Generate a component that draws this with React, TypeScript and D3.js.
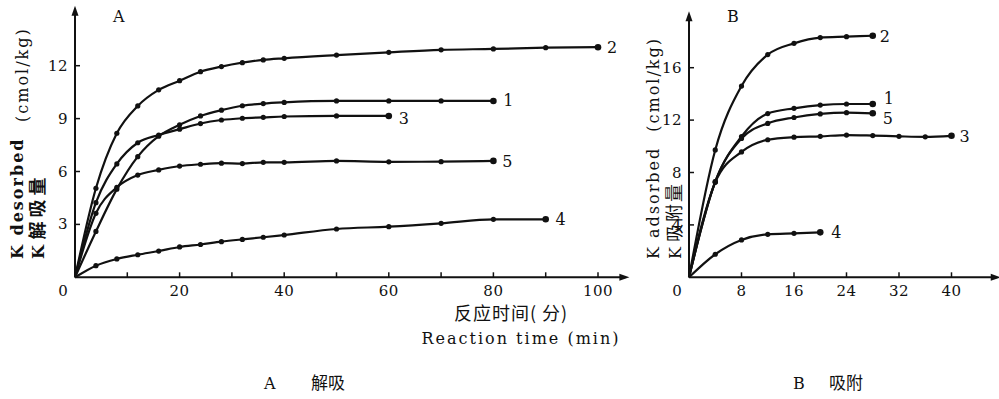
import React from 'react'
import * as d3 from 'd3'

// panel A: desorption, time in minutes
const timeA = [0, 4, 8, 12, 16, 20, 24, 28, 32, 36, 40, 50, 60, 70, 80, 90, 100]
const desorbed1 = [0, 2.6, 5.0, 6.84, 8.0, 8.65, 9.15, 9.48, 9.73, 9.85, 9.92, 10.0, 10.0, 10.0, 10.0]
const desorbed2 = [0, 5.05, 8.17, 9.72, 10.63, 11.15, 11.66, 11.95, 12.17, 12.33, 12.42, 12.6, 12.76, 12.9, 12.95, 13.02, 13.05]
const desorbed3 = [0, 4.23, 6.43, 7.63, 8.07, 8.4, 8.72, 8.92, 9.02, 9.07, 9.12, 9.15, 9.15]
const desorbed4 = [0, 0.66, 1.04, 1.28, 1.49, 1.72, 1.86, 2.02, 2.15, 2.27, 2.4, 2.74, 2.87, 3.06, 3.29, 3.29]
const desorbed5 = [0, 3.63, 5.1, 5.8, 6.09, 6.31, 6.41, 6.47, 6.45, 6.52, 6.52, 6.6, 6.55, 6.56, 6.6]

// panel B: adsorption
const timeB = [0, 4, 8, 12, 16, 20, 24, 28, 32, 36, 40]
const adsorbed1 = [0, 7.3, 10.75, 12.5, 12.9, 13.15, 13.23, 13.23]
const adsorbed2 = [0, 9.72, 14.6, 17.0, 17.86, 18.3, 18.37, 18.44]
const adsorbed3 = [0, 7.25, 9.57, 10.5, 10.7, 10.76, 10.86, 10.82, 10.76, 10.72, 10.8]
const adsorbed4 = [0, 1.76, 2.85, 3.28, 3.36, 3.43]
const adsorbed5 = [0, 7.3, 10.6, 11.75, 12.2, 12.47, 12.57, 12.52]

const seriesNames = ['1', '2', '3', '4', '5']

const xTicksA = [10, 20, 30, 40, 50, 60, 70, 80, 90, 100]
const xLabelsA = [20, 40, 60, 80, 100]
const yTicksA = [3, 6, 9, 12]
const xTicksB = [8, 16, 24, 32, 40]
const yTicksB = [4, 8, 12, 16]

const serif = '"DejaVu Serif", "Liberation Serif", serif'
const cjk = '"Noto Sans CJK SC", sans-serif'
const ink = '#111'

const lineGen = (x, y) =>
  d3.line<[number, number]>()
    .x(d => x(d[0]))
    .y(d => y(d[1]))
    .curve(d3.curveMonotoneX)

function Panel({ x, y, time, series, labelOffsets, xTicks, xLabels, yTicks, xMax, yMax, letter }) {
  const x0 = x(0)
  const y0 = y(0)
  const line = lineGen(x, y)
  const xEnd = x(xMax)
  const yEnd = y(yMax)
  return (
    <g>
      {/* axes with arrows */}
      <line x1={x0} y1={y0} x2={xEnd - 4} y2={y0} stroke={ink} strokeWidth={2} />
      <path d={`M${xEnd},${y0} L${xEnd - 10},${y0 - 3.5} L${xEnd - 10},${y0 + 3.5} Z`} fill={ink} />
      <line x1={x0} y1={y0} x2={x0} y2={yEnd + 4} stroke={ink} strokeWidth={2} />
      <path d={`M${x0},${yEnd} L${x0 - 3.5},${yEnd + 10} L${x0 + 3.5},${yEnd + 10} Z`} fill={ink} />
      {xTicks.map(t => (
        <line key={'xt' + t} x1={x(t)} x2={x(t)} y1={y0} y2={y0 - 5} stroke={ink} strokeWidth={1.5} />
      ))}
      {xLabels.map(t => (
        <text key={'xl' + t} x={x(t)} y={y0 + 19} textAnchor="middle" fontFamily={serif} fontSize={15} letterSpacing={0.5} fill={ink}>{t}</text>
      ))}
      <text x={x0 - 12} y={y0 + 19} textAnchor="middle" fontFamily={serif} fontSize={15} fill={ink}>0</text>
      {yTicks.map(t => (
        <g key={'yt' + t}>
          <line x1={x0} x2={x0 + 5} y1={y(t)} y2={y(t)} stroke={ink} strokeWidth={1.5} />
          <text x={x0 - 7} y={y(t) + 5} textAnchor="end" fontFamily={serif} fontSize={15} letterSpacing={0.5} fill={ink}>{t}</text>
        </g>
      ))}
      <text x={x0 + 38} y={y(0) - 255} fontFamily={serif} fontSize={16} fill={ink}>{letter}</text>
      {series.map((vals, i) => {
        const pts = vals.map((v, j) => [time[j], v] as [number, number])
        const last = pts[pts.length - 1]
        const off = labelOffsets[i]
        return (
          <g key={'s' + i}>
            <path d={line(pts) || ''} fill="none" stroke={ink} strokeWidth={2.2} />
            {pts.slice(1).map((p, j) => (
              <circle key={j} cx={x(p[0])} cy={y(p[1])} r={j === pts.length - 2 ? 3.3 : 2.6} fill={ink} />
            ))}
            <text x={x(last[0]) + off[0]} y={y(last[1]) + off[1]} textAnchor="middle" fontFamily={serif} fontSize={16} fill={ink}>
              {seriesNames[i]}
            </text>
          </g>
        )
      })}
    </g>
  )
}

export default function App() {
  const xA = d3.scaleLinear().domain([0, 100]).range([75, 598])
  const yA = d3.scaleLinear().domain([0, 12]).range([277.3, 65.7])
  const xB = d3.scaleLinear().domain([0, 40]).range([689, 951.5])
  const yB = d3.scaleLinear().domain([0, 16]).range([277.3, 67.7])

  return (
    <svg width={999} height={399} style={{ position: 'absolute', left: 0, top: 0, background: '#fff' }}>
      <rect width={999} height={399} fill="#fff" />
      <Panel
        x={xA} y={yA} time={timeA}
        series={[desorbed1, desorbed2, desorbed3, desorbed4, desorbed5]}
        labelOffsets={[[15, 5], [14, 6], [15, 8], [15, 6], [14, 6]]}
        xTicks={xTicksA} xLabels={xLabelsA} yTicks={yTicksA}
        xMax={106} yMax={15.4} letter="A"
      />
      <Panel
        x={xB} y={yB} time={timeB}
        series={[adsorbed1, adsorbed2, adsorbed3, adsorbed4, adsorbed5]}
        labelOffsets={[[16, 0], [12, 6], [13, 6], [16, 6], [15, 11]]}
        xTicks={xTicksB} xLabels={xTicksB} yTicks={yTicksB}
        xMax={47.5} yMax={20.3} letter="B"
      />

      {/* y titles A */}
      <g transform="translate(23,259) rotate(-90)">
        <text fontFamily={serif} fontWeight="bold" fontSize={16} letterSpacing={2} fill={ink}>
          K  desorbed <tspan dx={8} dy={5} fontWeight="normal">(cmol/kg)</tspan>
        </text>
      </g>
      <g transform="translate(44,259) rotate(-90)">
        <text fontFamily={serif} fontWeight="bold" fontSize={16} fill={ink}>
          K <tspan fontFamily={cjk} fontSize={18} letterSpacing={4}>解吸量</tspan>
        </text>
      </g>
      {/* y titles B */}
      <g transform="translate(659,259) rotate(-90)">
        <text fontFamily={serif} fontSize={16} letterSpacing={2} fill={ink}>
          K  adsorbed <tspan dx={8}>(cmol/kg)</tspan>
        </text>
      </g>
      <g transform="translate(681,259) rotate(-90)">
        <text fontFamily={serif} fontSize={16} fill={ink}>
          K <tspan fontFamily={cjk} fontSize={18} letterSpacing={2}>吸附量</tspan>
        </text>
      </g>

      {/* x title */}
      <text x={511} y={320} textAnchor="middle" fontFamily={cjk} fontSize={18} letterSpacing={1} fill={ink}>反应时间( 分)</text>
      <text x={521} y={344} textAnchor="middle" fontFamily={serif} fontSize={16} letterSpacing={2} fill={ink}>Reaction time (min)</text>

      {/* captions */}
      <text x={264} y={389} fontFamily={serif} fontSize={16} fill={ink}>A</text>
      <text x={311} y={389} fontFamily={cjk} fontSize={17} fill={ink}>解吸</text>
      <text x={793} y={389} fontFamily={serif} fontSize={16} fill={ink}>B</text>
      <text x={829} y={389} fontFamily={cjk} fontSize={17} fill={ink}>吸附</text>
    </svg>
  )
}
